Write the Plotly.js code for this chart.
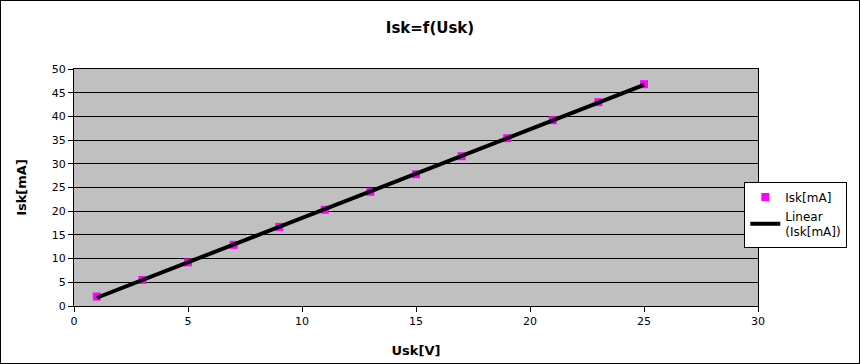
<!DOCTYPE html>
<html><head><meta charset="utf-8">
<script src="https://cdn.plot.ly/plotly-3.0.1.min.js"></script>
<style>
html,body{margin:0;padding:0;background:#fff;}
#wrap{position:absolute;left:0;top:0;width:860px;height:364px;border:1px solid #000;box-sizing:border-box;}
#chart{width:858px;height:362px;}
</style></head>
<body><div id="wrap"><div id="chart"></div></div>
<script>
const usk = [1, 3, 5, 7, 9, 11, 13, 15, 17, 19, 21, 23, 25];
const isk = [2.0, 5.5, 9.2, 12.9, 16.7, 20.3, 24.1, 27.8, 31.6, 35.4, 39.2, 43.0, 46.8];
const seriesName = 'Isk[mA]';
const trendName = 'Linear<br>(Isk[mA])';

// least-squares trendline from the data
const n = usk.length;
const mx = usk.reduce((a,b)=>a+b,0)/n, my = isk.reduce((a,b)=>a+b,0)/n;
let sxy=0, sxx=0;
for (let i=0;i<n;i++){ sxy+=(usk[i]-mx)*(isk[i]-my); sxx+=(usk[i]-mx)**2; }
const slope = sxy/sxx, icpt = my - slope*mx;
const tx = [usk[0], usk[n-1]];
const ty = tx.map(x=>icpt+slope*x);

const font = {family:'DejaVu Sans, sans-serif', color:'#000'};
const data = [
  {x:usk, y:isk, type:'scatter', mode:'markers', name:seriesName,
   marker:{symbol:'square', size:8, color:'#ff00ff'}},
  {x:tx, y:ty, type:'scatter', mode:'lines', name:trendName,
   line:{color:'#000', width:4}}
];
const layout = {
  width:858, height:362,
  margin:{l:73, r:101, t:68, b:57},
  paper_bgcolor:'#fff', plot_bgcolor:'#c0c0c0',
  font:Object.assign({size:11}, font),
  title:{text:'<b>Isk=f(Usk)</b>', font:Object.assign({size:15}, font), x:0.5, xanchor:'center', y:0.925, yanchor:'middle'},
  xaxis:{range:[0,30], dtick:5, tick0:0, showgrid:false, zeroline:false,
    showline:true, linecolor:'#000', linewidth:1, mirror:true,
    ticks:'outside', ticklen:5, tickcolor:'#000',
    tickfont:Object.assign({size:11}, font),
    title:{text:'<b>Usk[V]</b>', font:Object.assign({size:13}, font), standoff:18}},
  yaxis:{range:[0,50], dtick:5, tick0:0, showgrid:true, gridcolor:'#000', gridwidth:1, zeroline:false,
    showline:true, linecolor:'#000', linewidth:1, mirror:true,
    ticks:'outside', ticklen:5, tickcolor:'#000',
    tickfont:Object.assign({size:11}, font),
    title:{text:'<b>Isk[mA]</b>', font:Object.assign({size:13}, font), standoff:22}},
  showlegend:true,
  legend:{x:0.98, xanchor:'left', y:0.525, yanchor:'top', bgcolor:'#fff', bordercolor:'#000', borderwidth:1,
    font:Object.assign({size:12}, font), tracegroupgap:0, itemwidth:30}
};
Plotly.newPlot('chart', data, layout, {displayModeBar:false, staticPlot:true});
</script></body></html>
